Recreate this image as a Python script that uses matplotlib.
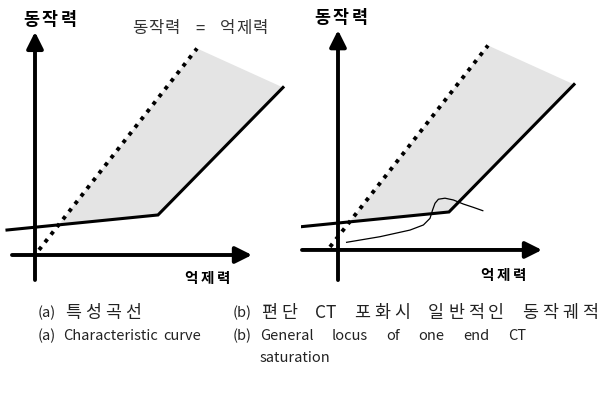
import numpy as np
import matplotlib
matplotlib.use("Agg")
import matplotlib.pyplot as plt
from matplotlib.transforms import Affine2D

plt.rcParams['font.family'] = ['Noto Sans CJK KR', 'DejaVu Sans']

# 특성곡선 (억제력 vs 동작력), 임의 단위
restraint = [-1.4, 6.15, 12.4]
operate = [0.98, 1.57, 6.57]

# 동작력 = 억제력 기준선
equal_line = [0.2, 8.1]
# 동작영역 상단 경계 (기준선 끝 -> 특성곡선 끝)
region_top_x = [8.1, 12.4]
region_top_y = [8.1, 6.57]

# 편단 CT 포화시 동작궤적
locus_x = [1.03, 2.7, 4.2, 4.87, 5.2, 5.33, 5.45, 5.62, 5.95, 6.37, 6.87, 7.37, 7.84]
locus_y = [0.38, 0.6, 0.86, 1.06, 1.32, 1.65, 1.91, 2.07, 2.11, 2.04, 1.88, 1.75, 1.62]

# 캡션: (번호, 본문, 번호 x, 본문 x, 본문 끝 x(양쪽정렬) 또는 None, 세로 px, 크기)
captions = [
    ('(a)', '특성곡선', 38, 65, None, 313, 12.5),
    ('(a)', 'Characteristic curve', 38, 63, None, 336, 10.5),
    ('(b)', '편단 CT 포화시 일반적인 동작궤적', 233, 261, 598, 313, 12.5),
    ('(b)', 'General locus of one end CT', 233, 260, 526, 336, 10.5),
    ('', 'saturation', 233, 260, None, 358, 10.5),
]

W, H = 601, 399
fig = plt.figure(figsize=(W / 100, H / 100), dpi=100)
renderer = fig.canvas.get_renderer()
# 위에서부터 재는 픽셀 좌표
px_trans = Affine2D().scale(1, -1).translate(0, H)


def is_hangul(ch):
    return '\uac00' <= ch <= '\ud7a3'


def layout(text, x0, y, size, gap=0, x1=None, track=0, ha='left',
           color='#222222', weight='normal'):
    # 단어 단위 배치, 한글은 자간(track px)을 두고 한 글자씩
    words = text.split(' ')
    items = []
    for w in words:
        if track and all(is_hangul(c) for c in w):
            parts = list(w)
        else:
            parts = [w]
        ts = [fig.text(0, y, s, fontsize=size, color=color, fontweight=weight,
                       ha='left', va='center', transform=px_trans) for s in parts]
        ws = [t.get_window_extent(renderer).width for t in ts]
        width = sum(ws) + track * (len(ts) - 1)
        items.append((ts, ws, width))
    total = sum(it[2] for it in items)
    if x1 is not None and len(items) > 1:
        gap = (x1 - x0 - total) / (len(items) - 1)
    span = total + gap * (len(items) - 1)
    x = x0 - span / 2 if ha == 'center' else x0
    for ts, ws, width in items:
        for t, w in zip(ts, ws):
            t.set_x(x)
            x += w + track
        x += gap - track


# 각 패널: 축 위치, 곡선 원점 픽셀, 축선 범위, 라벨 위치(px)
panels = [
    dict(rect=[0, 0, 300.5 / W, 1], origin=(35, 255), vx=0.0, hy=0.0,
         vrange=(-0.98, 8.75), hrange=(-1.15, 10.85), locus=False,
         ylab=(50, 20), xlab=(207, 278)),
    dict(rect=[300.5 / W, 0, 300.5 / W, 1], origin=(326, 252), vx=0.6, hy=0.08,
         vrange=(-1.1, 8.7), hrange=(-1.2, 10.8), locus=True,
         ylab=(341, 18), xlab=(503, 275)),
]
sx, sy = 20.0, 25.5

for p in panels:
    ax = fig.add_axes(p['rect'])
    x0px = p['rect'][0] * W
    ox, oy = p['origin']
    ax.set_xlim((x0px - ox) / sx, (x0px + p['rect'][2] * W - ox) / sx)
    ax.set_ylim((oy - H) / sy, oy / sy)
    ax.axis('off')

    # 동작영역 음영: 기준선과 특성곡선 교점에서 시작
    slope1 = (operate[1] - operate[0]) / (restraint[1] - restraint[0])
    icpt = operate[0] - slope1 * restraint[0]
    xi = icpt / (1 - slope1)
    poly_x = [xi, region_top_x[0], region_top_x[1], restraint[1]]
    poly_y = [xi, region_top_y[0], region_top_y[1], operate[1]]
    ax.fill(poly_x, poly_y, color='#e4e4e4', lw=0, zorder=1)

    # 기준선 (점선)
    ax.plot(equal_line, equal_line, color='k', lw=2.8, dashes=(1, 1.5), zorder=3)
    # 특성곡선
    ax.plot(restraint, operate, color='k', lw=2.2, solid_joinstyle='miter', zorder=3)

    if p['locus']:
        ax.plot(locus_x, locus_y, color='k', lw=0.9, zorder=4)

    # 축선과 화살표
    head = '-|>,head_length=0.5,head_width=0.25'
    ax.annotate('', xy=(p['vx'], p['vrange'][1]), xytext=(p['vx'], p['vrange'][0]),
                arrowprops=dict(arrowstyle=head, lw=2.8, color='k', mutation_scale=20,
                                shrinkA=0, shrinkB=0))
    ax.annotate('', xy=(p['hrange'][1], p['hy']), xytext=(p['hrange'][0], p['hy']),
                arrowprops=dict(arrowstyle=head, lw=2.8, color='k', mutation_scale=20,
                                shrinkA=0, shrinkB=0))

    layout('동작력', p['ylab'][0], p['ylab'][1], 12.5, track=3, ha='center',
           color='k', weight='bold')
    layout('억제력', p['xlab'][0], p['xlab'][1], 10.5, track=3, ha='center',
           color='k', weight='bold')

layout('동작력 = 억제력', 132, 29, 12, x1=268, track=1, color='#333333')

for num, body, xn, xb, xe, y, size in captions:
    if num:
        layout(num, xn, y, 10.5)
    layout(body, xb, y, size, gap=6, x1=xe, track=4)

fig.savefig('out.png', dpi=100)
